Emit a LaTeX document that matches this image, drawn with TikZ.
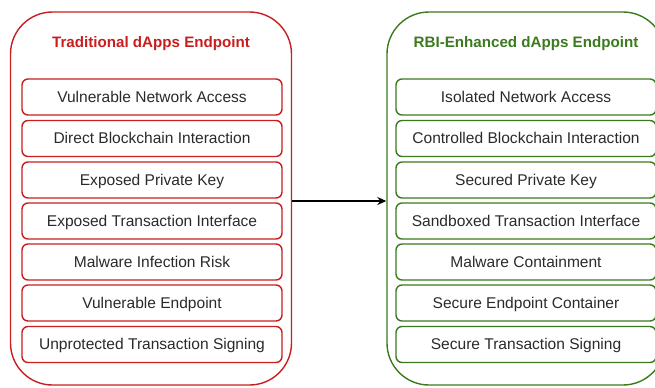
\documentclass[tikz,border=0pt]{standalone}
\usepackage{fontspec}
\setmainfont{Liberation Sans}
\usetikzlibrary{arrows.meta}
\definecolor{tred}{HTML}{C81E1E}
\definecolor{tgreen}{HTML}{3B7A1E}
\definecolor{ttext}{HTML}{2A2A2A}
\begin{document}
\begin{tikzpicture}[x=1bp,y=-1bp,
  outerbox/.style={draw, line width=1.4bp, rounded corners=42bp},
  itemred/.style={draw=tred, line width=1.4bp, rounded corners=6bp, minimum width=260bp, minimum height=36bp, inner sep=0pt, text height=11bp, text depth=1bp, text=ttext, font=\fontsize{15.6}{17}\selectfont},
  itemgreen/.style={itemred, draw=tgreen},
  titletext/.style={font=\fontsize{15.2}{17}\selectfont\bfseries},
  conn/.style={line width=2bp, -{Stealth[length=9bp,width=8bp]}}
]
\useasboundingbox (0,0) rectangle (655,387);
\clip (0,0) rectangle (655,387);
% outer boxes
\node[outerbox, draw=tred, minimum width=281bp, minimum height=373bp, inner sep=0pt] (L) at (151,198.5) {};
\node[outerbox, draw=tgreen, minimum width=278bp, minimum height=373bp, inner sep=0pt] (R) at (526,198.5) {};
\node[titletext, text=tred] (LT) at (151,44) {Traditional dApps Endpoint};
\node[titletext, text=tgreen] (RT) at (526,44) {RBI-Enhanced dApps Endpoint};
% left items
\node[itemred] (l1) at (152,97) {Vulnerable Network Access};
\node[itemred] (l2) at (152,138.5) {Direct Blockchain Interaction};
\node[itemred] (l3) at (152,180) {Exposed Private Key};
\node[itemred] (l4) at (152,221) {Exposed Transaction Interface};
\node[itemred] (l5) at (152,262) {Malware Infection Risk};
\node[itemred] (l6) at (152,303) {Vulnerable Endpoint};
\node[itemred] (l7) at (152,344.5) {Unprotected Transaction Signing};
% right items
\node[itemgreen] (r1) at (526,97) {Isolated Network Access};
\node[itemgreen] (r2) at (526,138.5) {Controlled Blockchain Interaction};
\node[itemgreen] (r3) at (526,180) {Secured Private Key};
\node[itemgreen] (r4) at (526,221) {Sandboxed Transaction Interface};
\node[itemgreen] (r5) at (526,262) {Malware Containment};
\node[itemgreen] (r6) at (526,303) {Secure Endpoint Container};
\node[itemgreen] (r7) at (526,344.5) {Secure Transaction Signing};
% connector
\draw[conn] (L.east |- 0,201) -- (R.west |- 0,201);
\end{tikzpicture}
\end{document}
